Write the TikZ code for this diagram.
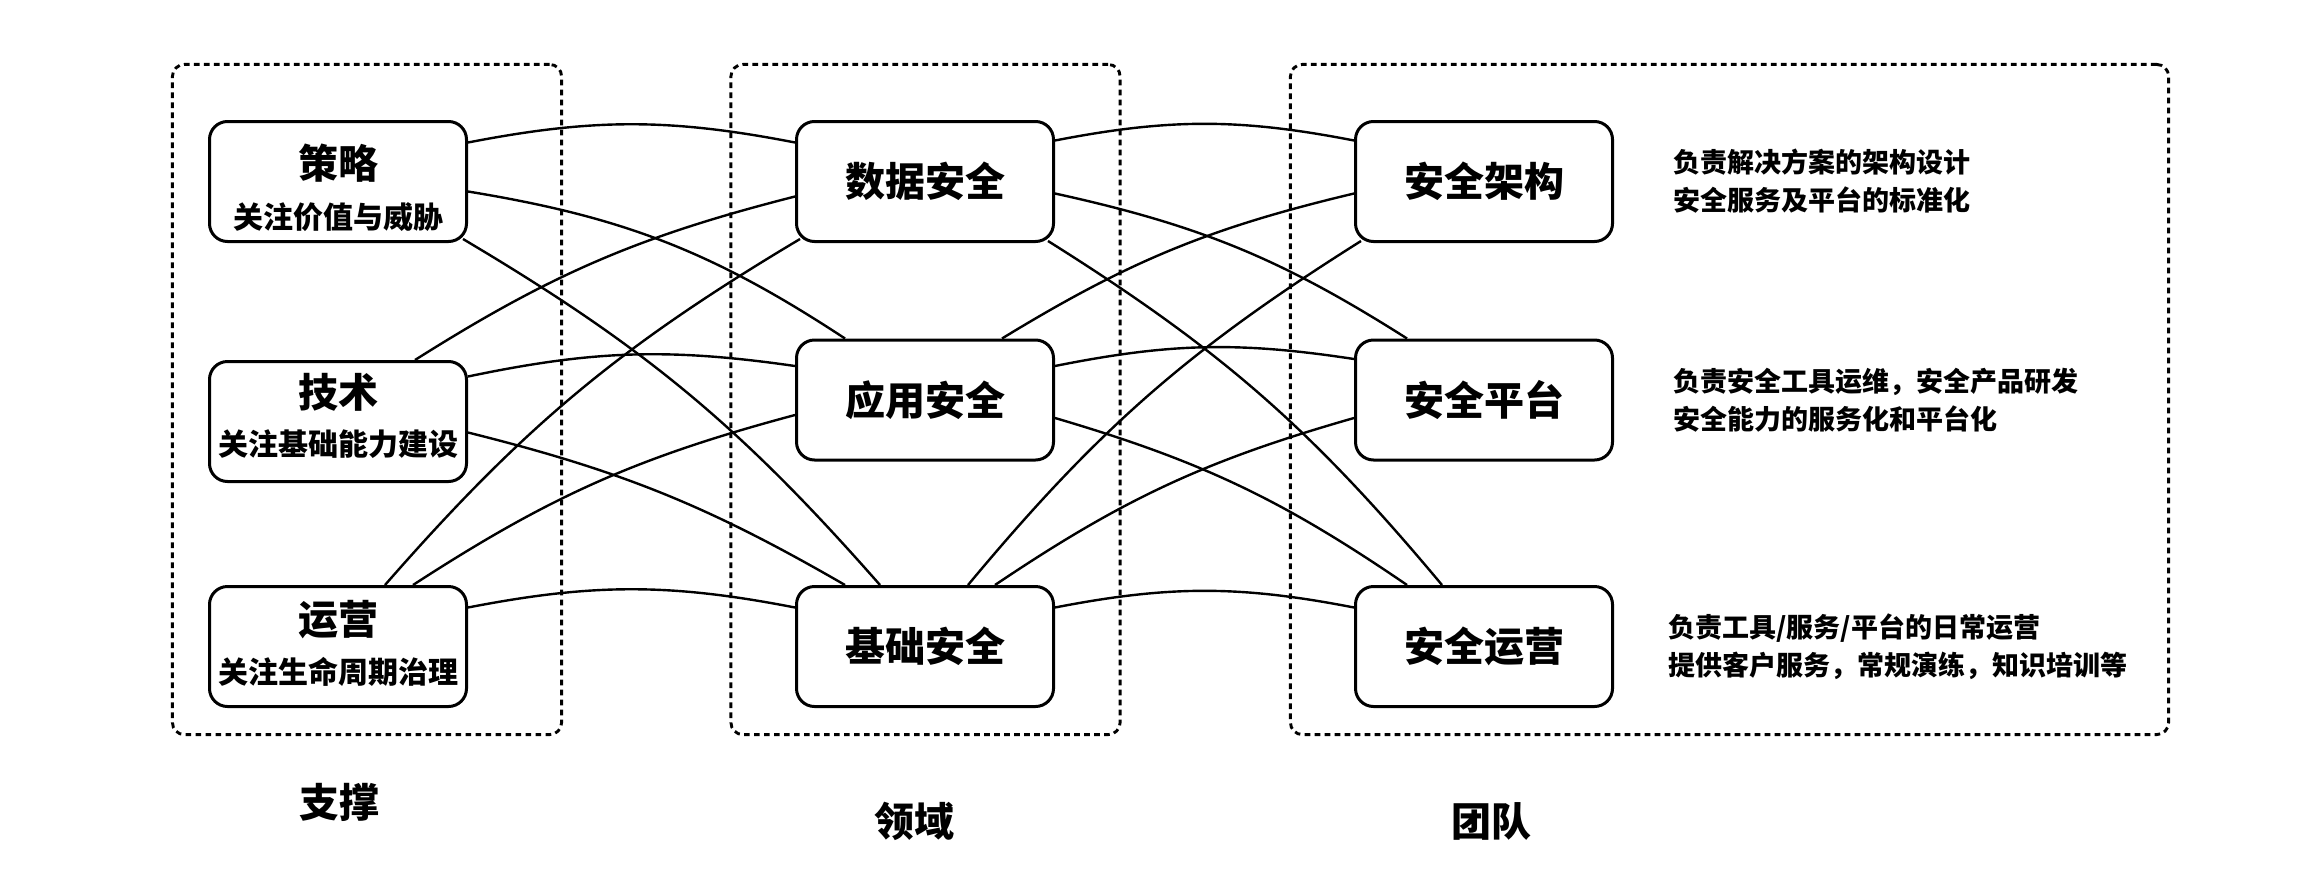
\documentclass[tikz,border=0pt]{standalone}
\usepackage{fontspec}
\setmainfont{Noto Sans CJK SC}
\begin{document}
\begin{tikzpicture}[x=0.5pt,y=-0.5pt,
  box/.style={draw, line width=1.5pt, rounded corners=9pt, minimum width=128.5pt, minimum height=60pt, inner sep=0pt},
  group/.style={draw, line width=1.45pt, rounded corners=6pt, dash pattern=on 2.85pt off 2.15pt, inner sep=0pt},
  conn/.style={line width=1.2pt},
  ttl/.style={inner sep=0pt, font=\fontsize{20pt}{24pt}\selectfont\bfseries},
  sub/.style={inner sep=0pt, font=\fontsize{15pt}{18pt}\selectfont\bfseries},
  desc/.style={inner sep=0pt, anchor=west, align=left, font=\fontsize{13.5pt}{19pt}\selectfont\bfseries},
  captxt/.style={inner sep=0pt, font=\fontsize{20pt}{24pt}\selectfont\bfseries}]
\useasboundingbox (0,0) rectangle (2300,878);

% group boxes
\node[group, minimum width=194.6pt, minimum height=335.1pt] (gL) at (367,399.5) {};
\node[group, minimum width=194.6pt, minimum height=335.1pt] (gM) at (925.5,399.5) {};
\node[group, minimum width=439.1pt, minimum height=335.1pt] (gR) at (1729.5,399.5) {};

% left column
\node[box] (L1) at (338,181.5) {};
\node[box] (L2) at (338,421.5) {};
\node[box] (L3) at (338,646.5) {};
\node[ttl] (L1t) at ([yshift=9.25pt]L1.center) {策略};
\node[sub] (L1s) at ([yshift=-17.75pt]L1.center) {关注价值与威胁};
\node[ttl] (L2t) at ([yshift=14.5pt]L2.center) {技术};
\node[sub] (L2s) at ([yshift=-11.5pt]L2.center) {关注基础能力建设};
\node[ttl] (L3t) at ([yshift=13.5pt]L3.center) {运营};
\node[sub] (L3s) at ([yshift=-12.5pt]L3.center) {关注生命周期治理};

% middle column
\node[box, ttl] (M1) at (925,181.5) {数据安全};
\node[box, ttl] (M2) at (925,400) {应用安全};
\node[box, ttl] (M3) at (925,646.5) {基础安全};

% right column
\node[box, ttl] (R1) at (1484,181.5) {安全架构};
\node[box, ttl] (R2) at (1484,400) {安全平台};
\node[box, ttl] (R3) at (1484,646.5) {安全运营};

% descriptions
\node[desc] (D1) at (1673,181.5) {负责解决方案的架构设计\\安全服务及平台的标准化};
\node[desc] (D2) at (1673,400) {负责安全工具运维，安全产品研发\\安全能力的服务化和平台化};
\node[desc] (D3) at (1668,646.5) {负责工具/服务/平台的日常运营\\提供客户服务，常规演练，知识培训等};

% captions
\node[captxt] (C1) at (339,802) {支撑};
\node[captxt] (C2) at (914,821) {领域};
\node[captxt] (C3) at (1491,821) {团队};

% left -> middle
\draw[conn] ([yshift=19.5pt]L1.east) to[bend left=11] ([yshift=19.5pt]M1.west);
\draw[conn] ([yshift=-5pt]L1.east) to[bend left=12] ([xshift=-40pt]M2.north);
\draw[conn] ([xshift=-2.5pt,yshift=2pt]L1.south east) to[bend left=9] ([xshift=-22.5pt]M3.north);
\draw[conn] ([xshift=38.5pt]L2.north) to[bend left=9] ([yshift=-7.5pt]M1.west);
\draw[conn] ([yshift=22.5pt]L2.east) to[bend left=10] ([yshift=17pt]M2.west);
\draw[conn] ([yshift=-5.5pt]L2.east) to[bend left=8] ([xshift=-40pt]M3.north);
\draw[conn] ([xshift=23.5pt]L3.north) to[bend left=9] ([xshift=2.5pt,yshift=2pt]M1.south west);
\draw[conn] ([xshift=37.5pt]L3.north) to[bend left=9] ([yshift=-7.5pt]M2.west);
\draw[conn] ([yshift=19.5pt]L3.east) to[bend left=11] ([yshift=19.5pt]M3.west);

% middle -> right
\draw[conn] ([yshift=20.5pt]M1.east) to[bend left=11] ([yshift=20.5pt]R1.west);
\draw[conn] ([yshift=-6pt]M1.east) to[bend left=10] ([xshift=-38.5pt]R2.north);
\draw[conn] ([xshift=-3.5pt,yshift=1pt]M1.south east) to[bend left=9] ([xshift=-21pt]R3.north);
\draw[conn] ([xshift=38.5pt]M2.north) to[bend left=9] ([yshift=-6pt]R1.west);
\draw[conn] ([yshift=17pt]M2.east) to[bend left=10] ([yshift=20.5pt]R2.west);
\draw[conn] ([yshift=-9pt]M2.east) to[bend left=9] ([xshift=-38.5pt]R3.north);
\draw[conn] ([xshift=21.5pt]M3.north) to[bend left=9] ([xshift=3.5pt,yshift=1pt]R1.south west);
\draw[conn] ([xshift=35pt]M3.north) to[bend left=9] ([yshift=-9pt]R2.west);
\draw[conn] ([yshift=19.5pt]M3.east) to[bend left=11] ([yshift=19.5pt]R3.west);
\end{tikzpicture}
\end{document}
